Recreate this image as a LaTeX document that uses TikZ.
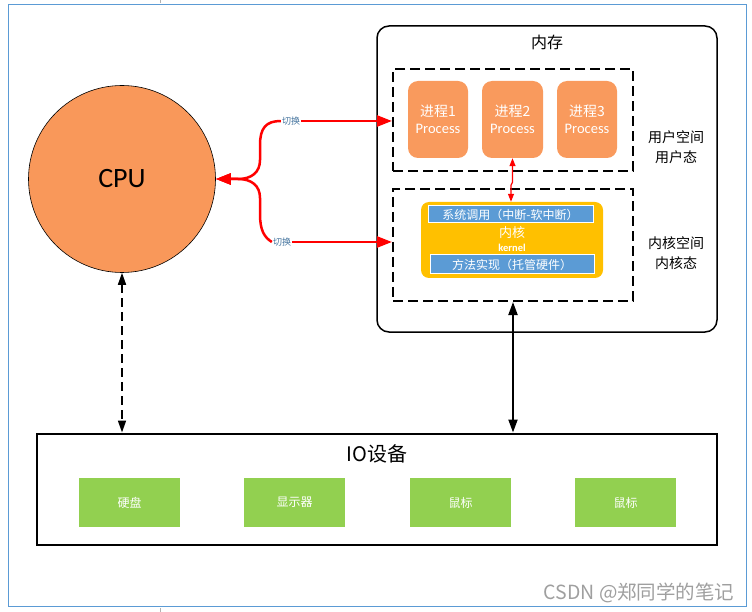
\documentclass[tikz,border=0pt]{standalone}
\usepackage{fontspec}
\setmainfont{Carlito}
\newfontfamily\cjk{Noto Sans CJK SC}
\usetikzlibrary{arrows.meta,calc}
\definecolor{cpuor}{HTML}{F9985A}
\definecolor{procor}{HTML}{F99A5D}
\definecolor{kgold}{HTML}{FFC000}
\definecolor{kblue}{HTML}{5B9BD5}
\definecolor{iogreen}{HTML}{92D050}
\definecolor{swtxt}{HTML}{41719C}
\definecolor{framebl}{HTML}{5B9BD5}
\tikzset{
  membox/.style={draw=black, line width=1.5pt, rounded corners=12pt, minimum width=340pt, minimum height=306pt},
  spacebox/.style={draw=black, line width=2pt, dash pattern=on 10pt off 5pt, minimum width=240pt},
  procbox/.style={fill=procor, rounded corners=10pt, minimum height=77pt, text=white, align=center,
     font=\fontsize{14.5}{17}\selectfont},
  barbox/.style={fill=kblue, draw=white, line width=1pt, text=white, inner sep=0pt,
     font=\cjk\fontsize{12}{12}\selectfont},
  devbox/.style={fill=iogreen, minimum width=101pt, minimum height=49pt, text=white,
     font=\cjk\fontsize{12}{12}\selectfont},
  sidelbl/.style={align=center, font=\cjk\fontsize{14}{19.5}\selectfont},
  swlbl/.style={text=swtxt, inner sep=1pt, font=\cjk\fontsize{9}{9}\selectfont},
  redarrow/.style={draw=red, line width=2.5pt, -{Triangle[length=15pt,width=11pt]}},
}
\begin{document}
\begin{tikzpicture}[x=1pt,y=-1pt]
\useasboundingbox (0,0) rectangle (752,612);
% outer frame
\draw[framebl, line width=1pt] (8.5,4.5) rectangle (746,606);
\draw[gray!60, line width=0.8pt] (160,0) -- (160,3);
\draw[gray!60, line width=0.8pt] (160,608) -- (160,612);

% memory
\node[membox] (mem) at (547,179) {};
\node[font=\cjk\fontsize{16}{16}\selectfont] (memlbl) at (547,42) {内存};
\node[spacebox, minimum height=102pt] (user) at (513,120) {};
\node[spacebox, minimum height=112pt] (kern) at (513,245) {};
\node[procbox, minimum width=60pt] (p1) at (438,119.5) {{\cjk\fontsize{14}{17}\selectfont 进程1}\\Process};
\node[procbox, minimum width=61pt] (p2) at (512.5,119.5) {{\cjk\fontsize{14}{17}\selectfont 进程2}\\Process};
\node[procbox, minimum width=60pt] (p3) at (587,119.5) {{\cjk\fontsize{14}{17}\selectfont 进程3}\\Process};
\node[sidelbl] (ulbl) at (676,147) {用户空间\\用户态};
\node[sidelbl] (klbl) at (676,253) {内核空间\\内核态};

% kernel
\node[fill=kgold, rounded corners=8pt, minimum width=182pt, minimum height=76pt] (kbox) at (512,240) {};
\node[barbox, minimum width=165pt, minimum height=17pt] (bar1) at (510.5,214.5) {系统调用（中断-软中断）};
\node[barbox, minimum width=164pt, minimum height=19pt] (bar2) at (512,264.5) {方法实现（托管硬件）};
\node[text=white, inner sep=0pt, font=\cjk\fontsize{13}{13}\selectfont] (kzh) at (512,232.5) {内核};
\node[text=white, inner sep=0pt, font=\bfseries\fontsize{10.5}{10.5}\selectfont] (ken) at (512,248) {kernel};

% CPU
\node[circle, draw=black, line width=0.6pt, fill=cpuor, minimum size=187pt, inner sep=0pt,
      font=\fontsize{28}{28}\selectfont] (cpu) at (122,179) {CPU};

% IO
\node[draw=black, line width=2pt, minimum width=680pt, minimum height=111pt] (io) at (377,489) {};
\node[font=\cjk\fontsize{20}{20}\selectfont] (iolbl) at (377,454) {IO设备};
\node[devbox] (d1) at (129.5,502.5) {硬盘};
\node[devbox] (d2) at (294.5,502.5) {显示器};
\node[devbox] (d3) at (460.5,502.5) {鼠标};
\node[devbox] (d4) at (625.5,502.5) {鼠标};

% switch arrows
\node[swlbl] (sw1) at (291,121) {切换};
\node[swlbl] (sw2) at (282,242) {切换};
\draw[redarrow] (sw1.east) -- (sw1.east -| user.west);
\draw[redarrow] (sw2.east) -- (sw2.east -| kern.west);
\draw[redarrow] (sw1.west) .. controls (266,121) and (260,128) .. (260,145) -- (260,160)
   .. controls (260,172) and (252,179) .. (238,179) -- (cpu.east);
\draw[redarrow] (sw2.west) .. controls (264,237) and (260,230) .. (260,214) -- (260,198)
   .. controls (260,186) and (252,179) .. (238,179) -- (cpu.east);

% process <-> kernel
\draw[red, line width=1.2pt, {Triangle[length=8pt,width=6pt]}-{Triangle[length=8pt,width=6pt]}]
   (p2.south) -- ++(0,24) -- ++(-1.5,3) -- ($(kbox.north)+(-1,0)$);

% memory <-> IO
\draw[line width=2pt, {Triangle[length=13pt,width=9pt]}-{Triangle[length=13pt,width=9pt]}]
   (kern.south) -- (kern.south |- io.north);
% CPU <-> IO
\draw[line width=1.6pt, dash pattern=on 9pt off 5pt, {Triangle[length=12pt,width=8pt]}-{Triangle[length=12pt,width=8pt]}]
   (cpu.south) -- (cpu.south |- io.north);

% watermark
\node[text=gray!75, font=\cjk\fontsize{19.5}{19.5}\selectfont, anchor=east] (wm) at (738,593) {CSDN @郑同学的笔记};
\end{tikzpicture}
\end{document}
